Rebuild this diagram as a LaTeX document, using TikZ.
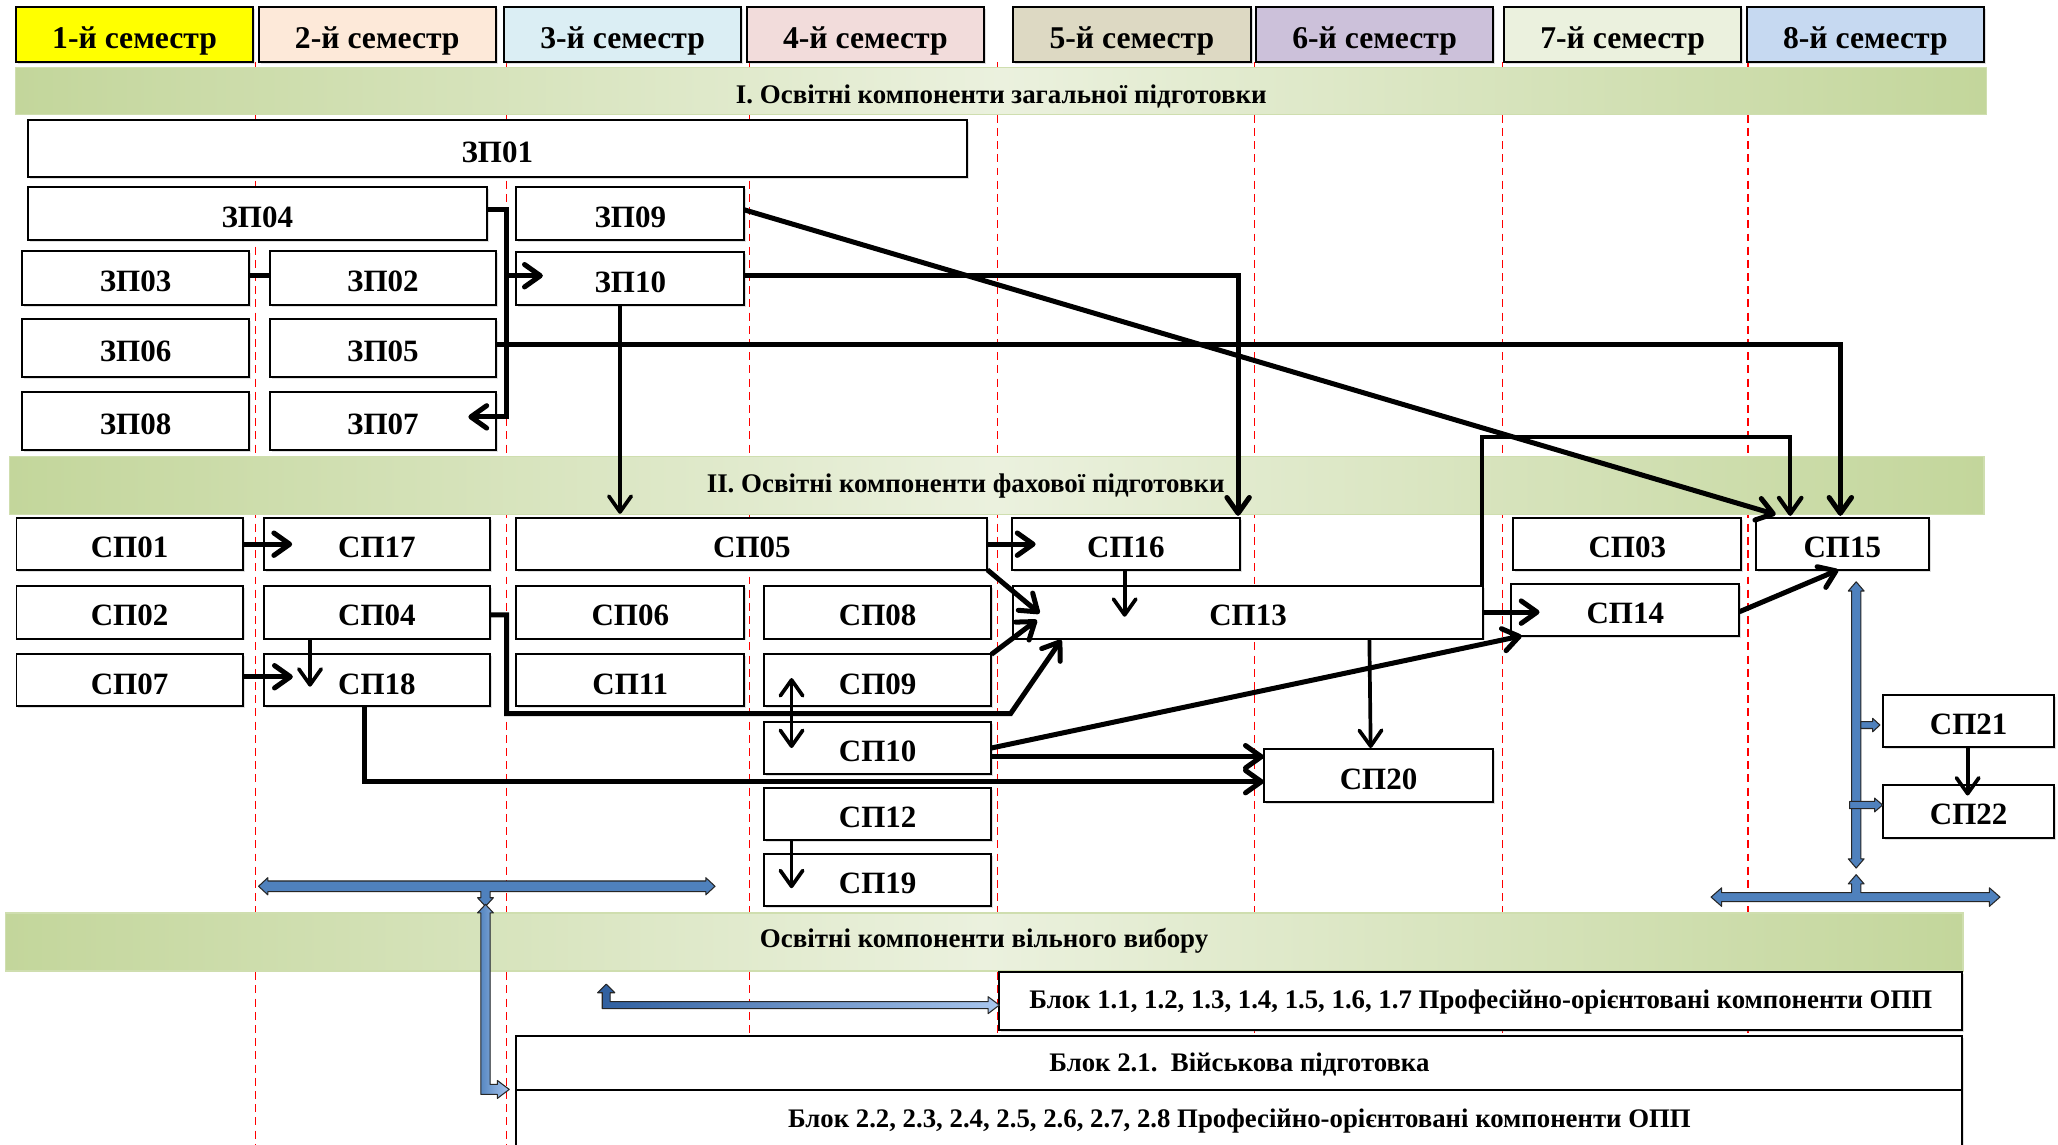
\documentclass[tikz,border=0pt]{standalone}
\usepackage{fontspec}
\setmainfont{Liberation Serif}
\usetikzlibrary{arrows.meta,calc,shadows}
\definecolor{hA}{HTML}{FFFF00}
\definecolor{hB}{HTML}{FDE9D9}
\definecolor{hC}{HTML}{DBEEF4}
\definecolor{hD}{HTML}{F2DCDB}
\definecolor{hE}{HTML}{DDD9C3}
\definecolor{hF}{HTML}{CCC1DA}
\definecolor{hG}{HTML}{EBF1DE}
\definecolor{hH}{HTML}{C6D9F1}
\definecolor{bandE}{HTML}{C3D69B}
\definecolor{bandM}{HTML}{EBF1DE}
\definecolor{blueF}{HTML}{4F81BD}
\definecolor{blueL}{HTML}{A9C6EE}
\definecolor{blueD}{HTML}{2F5F9F}
\begin{document}
\begin{tikzpicture}[x=1pt,y=-1pt,
  bx/.style={draw, fill=white, line width=1.5pt, inner sep=0pt, outer sep=0pt,
    font=\bfseries\fontsize{23.5}{28}\selectfont, text height=20.7pt, text depth=0pt,
    drop shadow={shadow xshift=1.5pt, shadow yshift=-1.5pt, opacity=0.25}},
  hd/.style={bx, font=\bfseries\fontsize{24}{28}\selectfont, text height=21pt},
  bigbox/.style={bx, font=\bfseries\fontsize{20.3}{24}\selectfont},
  band/.style={draw=bandE!80!white, line width=1pt, left color=bandE, right color=bandE, middle color=bandM},
  bandtxt/.style={font=\bfseries\fontsize{20.4}{24}\selectfont, anchor=base, inner sep=0pt},
  reddash/.style={draw=red, line width=0.8pt, dash pattern=on 6pt off 4pt},
  tipA/.tip={Straight Barb[length=12pt,width=17pt,round]},
  lnk/.style={line width=3.8pt},
  conn/.style={line width=3.8pt, -tipA},
  mdc/.style={line width=3.2pt, -tipA},
  thn/.style={line width=2.8pt, -tipA},
  thnb/.style={line width=2.8pt, tipA-tipA},
  blk/.style={fill=blueF, draw=black!85, line width=0.8pt, line join=round}
]
\useasboundingbox (0,0) rectangle (1560,867.2);
\fill[white] (0,0) rectangle (1560,867.2);

% semester separators
\foreach \x in {194,384,568,756,951,1139,1325}
  \draw[reddash] (\x,47) -- (\x,867.2);

% semester headers
\node[hd, fill=hA, minimum width=180pt, minimum height=42pt] (h1) at (102,26) {1-й семестр};
\node[hd, fill=hB, minimum width=180pt, minimum height=42pt] (h2) at (286,26) {2-й семестр};
\node[hd, fill=hC, minimum width=180pt, minimum height=42pt] (h3) at (472,26) {3-й семестр};
\node[hd, fill=hD, minimum width=180pt, minimum height=42pt] (h4) at (656,26) {4-й семестр};
\node[hd, fill=hE, minimum width=180pt, minimum height=42pt] (h5) at (858,26) {5-й семестр};
\node[hd, fill=hF, minimum width=180pt, minimum height=42pt] (h6) at (1042,26) {6-й семестр};
\node[hd, fill=hG, minimum width=180pt, minimum height=42pt] (h7) at (1230,26) {7-й семестр};
\node[hd, fill=hH, minimum width=180pt, minimum height=42pt] (h8) at (1414,26) {8-й семестр};

% bands
\path[band] (12,51) rectangle (1506,87);
\node[bandtxt] (t1) at (759,78.7) {I. Освітні компоненти загальної підготовки};
\path[band] (7,346) rectangle (1504,390);
\node[bandtxt] (t2) at (732,373) {II. Освітні компоненти фахової підготовки};
\path[band] (4,692) rectangle (1488,736);
\node[bandtxt] (t3) at (746,718.5) {Освітні компоненти вільного вибору};

% general training components
\node[bx, minimum width=712pt, minimum height=43pt] (zp01) at (377,112.5) {ЗП01};
\node[bx, minimum width=348pt, minimum height=40pt] (zp04) at (195,162) {ЗП04};
\node[bx, minimum width=172.5pt, minimum height=40pt] (zp09) at (477.75,162) {ЗП09};
\node[bx, minimum width=171.5pt, minimum height=41.5pt] (zp03) at (102.75,210.75) {ЗП03};
\node[bx, minimum width=171.5pt, minimum height=41.5pt] (zp02) at (290.25,210.75) {ЗП02};
\node[bx, minimum width=172.5pt, minimum height=40pt] (zp10) at (477.75,211) {ЗП10};
\node[bx, minimum width=171.5pt, minimum height=44pt] (zp06) at (102.75,264) {ЗП06};
\node[bx, minimum width=171.5pt, minimum height=44pt] (zp05) at (290.25,264) {ЗП05};
\node[bx, minimum width=171.5pt, minimum height=44pt] (zp08) at (102.75,319) {ЗП08};
\node[bx, minimum width=171.5pt, minimum height=44pt] (zp07) at (290.25,319) {ЗП07};

% professional components
\node[bx, minimum width=171.5pt, minimum height=39pt] (sp01) at (98.25,412.5) {СП01};
\node[bx, minimum width=171.5pt, minimum height=39pt] (sp17) at (285.75,412.5) {СП17};
\node[bx, minimum width=357pt, minimum height=39pt] (sp05) at (570,412.5) {СП05};
\node[bx, minimum width=173pt, minimum height=39pt] (sp16) at (853.5,412.5) {СП16};
\node[bx, minimum width=173pt, minimum height=39pt] (sp03) at (1233.5,412.5) {СП03};
\node[bx, minimum width=131pt, minimum height=39pt] (sp15) at (1396.5,412.5) {СП15};
\node[bx, minimum width=171.5pt, minimum height=40pt] (sp02) at (98.25,464) {СП02};
\node[bx, minimum width=171.5pt, minimum height=40pt] (sp04) at (285.75,464) {СП04};
\node[bx, minimum width=172.5pt, minimum height=40pt] (sp06) at (477.75,464) {СП06};
\node[bx, minimum width=172.5pt, minimum height=40pt] (sp08) at (665.25,464) {СП08};
\node[bx, minimum width=356pt, minimum height=40pt] (sp13) at (946,464) {СП13};
\node[bx, minimum width=173pt, minimum height=39pt] (sp14) at (1232,462.5) {СП14};
\node[bx, minimum width=171.5pt, minimum height=39.5pt] (sp07) at (98.25,515.75) {СП07};
\node[bx, minimum width=171.5pt, minimum height=39.5pt] (sp18) at (285.75,515.75) {СП18};
\node[bx, minimum width=172.5pt, minimum height=39.5pt] (sp11) at (477.75,515.75) {СП11};
\node[bx, minimum width=172.5pt, minimum height=39.5pt] (sp09) at (665.25,515.75) {СП09};
\node[bx, minimum width=172.5pt, minimum height=40pt] (sp10) at (665.25,567) {СП10};
\node[bx, minimum width=172.5pt, minimum height=40pt] (sp12) at (665.25,617) {СП12};
\node[bx, minimum width=172.5pt, minimum height=39.5pt] (sp19) at (665.25,667.25) {СП19};
\node[bx, minimum width=174pt, minimum height=40pt] (sp20) at (1045,588) {СП20};
\node[bx, minimum width=129.5pt, minimum height=39pt] (sp21) at (1492.25,546.5) {СП21};
\node[bx, minimum width=129.5pt, minimum height=40pt] (sp22) at (1492.25,615) {СП22};

% elective blocks
\node[bigbox, minimum width=730pt, minimum height=44pt, text height=10.8pt] (b11) at (1122.5,759) {Блок 1.1, 1.2, 1.3, 1.4, 1.5, 1.6, 1.7 Професійно-орієнтовані компоненти ОПП};
\node[bigbox, minimum width=1096pt, minimum height=41.3pt, text height=13.6pt] (b21) at (939.5,805.65) {Блок 2.1.\ \ Військова підготовка};
\node[bigbox, minimum width=1096pt, minimum height=46pt, text height=10pt] (b22) at (939.5,849.3) {Блок 2.2, 2.3, 2.4, 2.5, 2.6, 2.7, 2.8 Професійно-орієнтовані компоненти ОПП};

% ---------- connectors ----------
\coordinate (kx) at (384,0);
\draw[lnk] ($(zp03.east)+(0,-1.75)$) -- ($(zp02.west)+(0,-1.75)$);
\draw[conn] ($(zp04.east)+(0,-3)$) -| ($(kx |- zp07.east)+(0,-3)$) -- ($(zp07.east)+(-21,-3)$);
\draw[conn] ($(kx |- zp10.west)+(0,-2)$) -- ($(zp10.west)+(20,-2)$);
\draw[conn] ($(zp09.east)+(0,-3)$) -- ($(sp15.north west)+(15,-3)$);
\draw[conn] ($(zp10.east)+(0,-2)$) -| ($(sp16.north east)+(-1.5,-2)$);
\draw[thn] ($(zp10.south)+(-7.75,0)$) -- ($(zp10.south |- sp05.north)+(-7.75,-3.5)$);
\draw[conn] ($(zp05.east)+(0,-3)$) -| ($(sp15.north)+(-1.5,-2)$);
\draw[mdc] ($(sp13.north east)+(-0.5,0)$) |- ($(sp15.north)+(-39.5,-62)$) -- ($(sp15.north)+(-39.5,-2)$);

\draw[conn] (sp01.east) -- ($(sp17.west)+(21.5,0)$);
\draw[conn] (sp05.east) -- ($(sp16.west)+(18,0)$);
\draw[thn] ($(sp16.south)+(-1,0)$) -- ($(sp16.south |- sp13.center)+(-1,3.5)$);
\draw[conn] (sp05.south east) -- ($(sp13.west)+(20,1)$);
\draw[conn] (sp09.north east) -- ($(sp13.west)+(18,6)$);
\coordinate (p13a) at (384,541);
\coordinate (p13b) at (766,541);
\draw[conn] ($(sp04.east)+(0,2)$) -| (p13a) -- (p13b) -- ($(sp13.south west)+(36.5,1)$);
\draw[thn] ($(sp04.south)+(-50.75,0)$) -- ($(sp18.north)+(-50.75,24.5)$);
\draw[conn] ($(sp07.east)+(0,-2.75)$) -- ($(sp18.west)+(22,-2.75)$);
\draw[conn] ($(sp18.south)+(-9.75,0)$) |- ($(sp20.west)+(0,4.5)$);
\draw[conn] ($(sp10.east)+(0,6.6)$) -- ($(sp20.west)+(0,-14.4)$);
\draw[conn] (sp10.east) -- ($(sp14.south west)+(8,0)$);
\draw[conn] (sp13.east) -- ($(sp14.west)+(21.5,1.5)$);
\draw[thn] ($(sp13.south)+(92,0)$) -- ($(sp20.north)+(-6,-1)$);
\draw[conn] ($(sp14.east)+(0,1.2)$) -- ($(sp15.south)+(-3,0)$);
\draw[thnb] ($(sp09.west)+(21,-1.75)$) -- ($(sp10.west)+(21,0)$);
\draw[thn] ($(sp12.south west)+(21,0)$) -- ($(sp19.west)+(21,6)$);
\draw[thn] ($(sp21.south)+(-0.75,0)$) -- ($(sp22.north)+(-0.75,8)$);

% ---------- blue block arrows ----------
% left T arrow
\path[blk] (196,671.8) -- (203,665.3) -- (203,667.8) -- (535,667.8) -- (535,665.3) -- (542,671.8)
  -- (535,678.3) -- (535,675.8) -- (371.5,675.8) -- (371.5,680.5) -- (374,680.5) -- (368,687)
  -- (362,680.5) -- (364.5,680.5) -- (364.5,675.8) -- (203,675.8) -- (203,678.3) -- cycle;
% bent arrow to block 2.1
\path[blk, left color=blueF, right color=blueL] (368,685.5) -- (374,692) -- (371.5,692) -- (371.5,822) -- (377,822) -- (377,819)
  -- (386,825.8) -- (377,832.6) -- (377,829.6) -- (364.5,829.6) -- (364.5,692) -- (362,692) -- cycle;
% bent arrow to block 1.x
\path[blk, left color=blueD, right color=blueL] (459.5,746) -- (466,752.5) -- (462.5,752.5) -- (462.5,759.3)
  -- (749,759.3) -- (749,755.5) -- (757.5,761.9) -- (749,768.3) -- (749,764.5) -- (456.5,764.5)
  -- (456.5,752.5) -- (453,752.5) -- cycle;
% right vertical double arrow
\path[blk] (1407,441) -- (1413,448) -- (1410.5,448) -- (1410.5,651) -- (1413,651) -- (1407,658)
  -- (1401,651) -- (1403.5,651) -- (1403.5,448) -- (1401,448) -- cycle;
\path[blk] (1410.5,547) -- (1419.5,547) -- (1419.5,544.5) -- (1425,549.6) -- (1419.5,554.7)
  -- (1419.5,552.2) -- (1410.5,552.2) -- cycle;
\path[blk] (1402,607.5) -- (1421,607.5) -- (1421,605) -- (1427,610.2) -- (1421,615.4)
  -- (1421,612.9) -- (1402,612.9) -- cycle;
% bottom right T arrow
\path[blk] (1297,680) -- (1305,673) -- (1305,676.6) -- (1403.5,676.6) -- (1403.5,670) -- (1401,670)
  -- (1407,663) -- (1413,670) -- (1410.5,670) -- (1410.5,676.6) -- (1508,676.6) -- (1508,673)
  -- (1516,680) -- (1508,687) -- (1508,683.4) -- (1305,683.4) -- (1305,687) -- cycle;
\end{tikzpicture}
\end{document}
